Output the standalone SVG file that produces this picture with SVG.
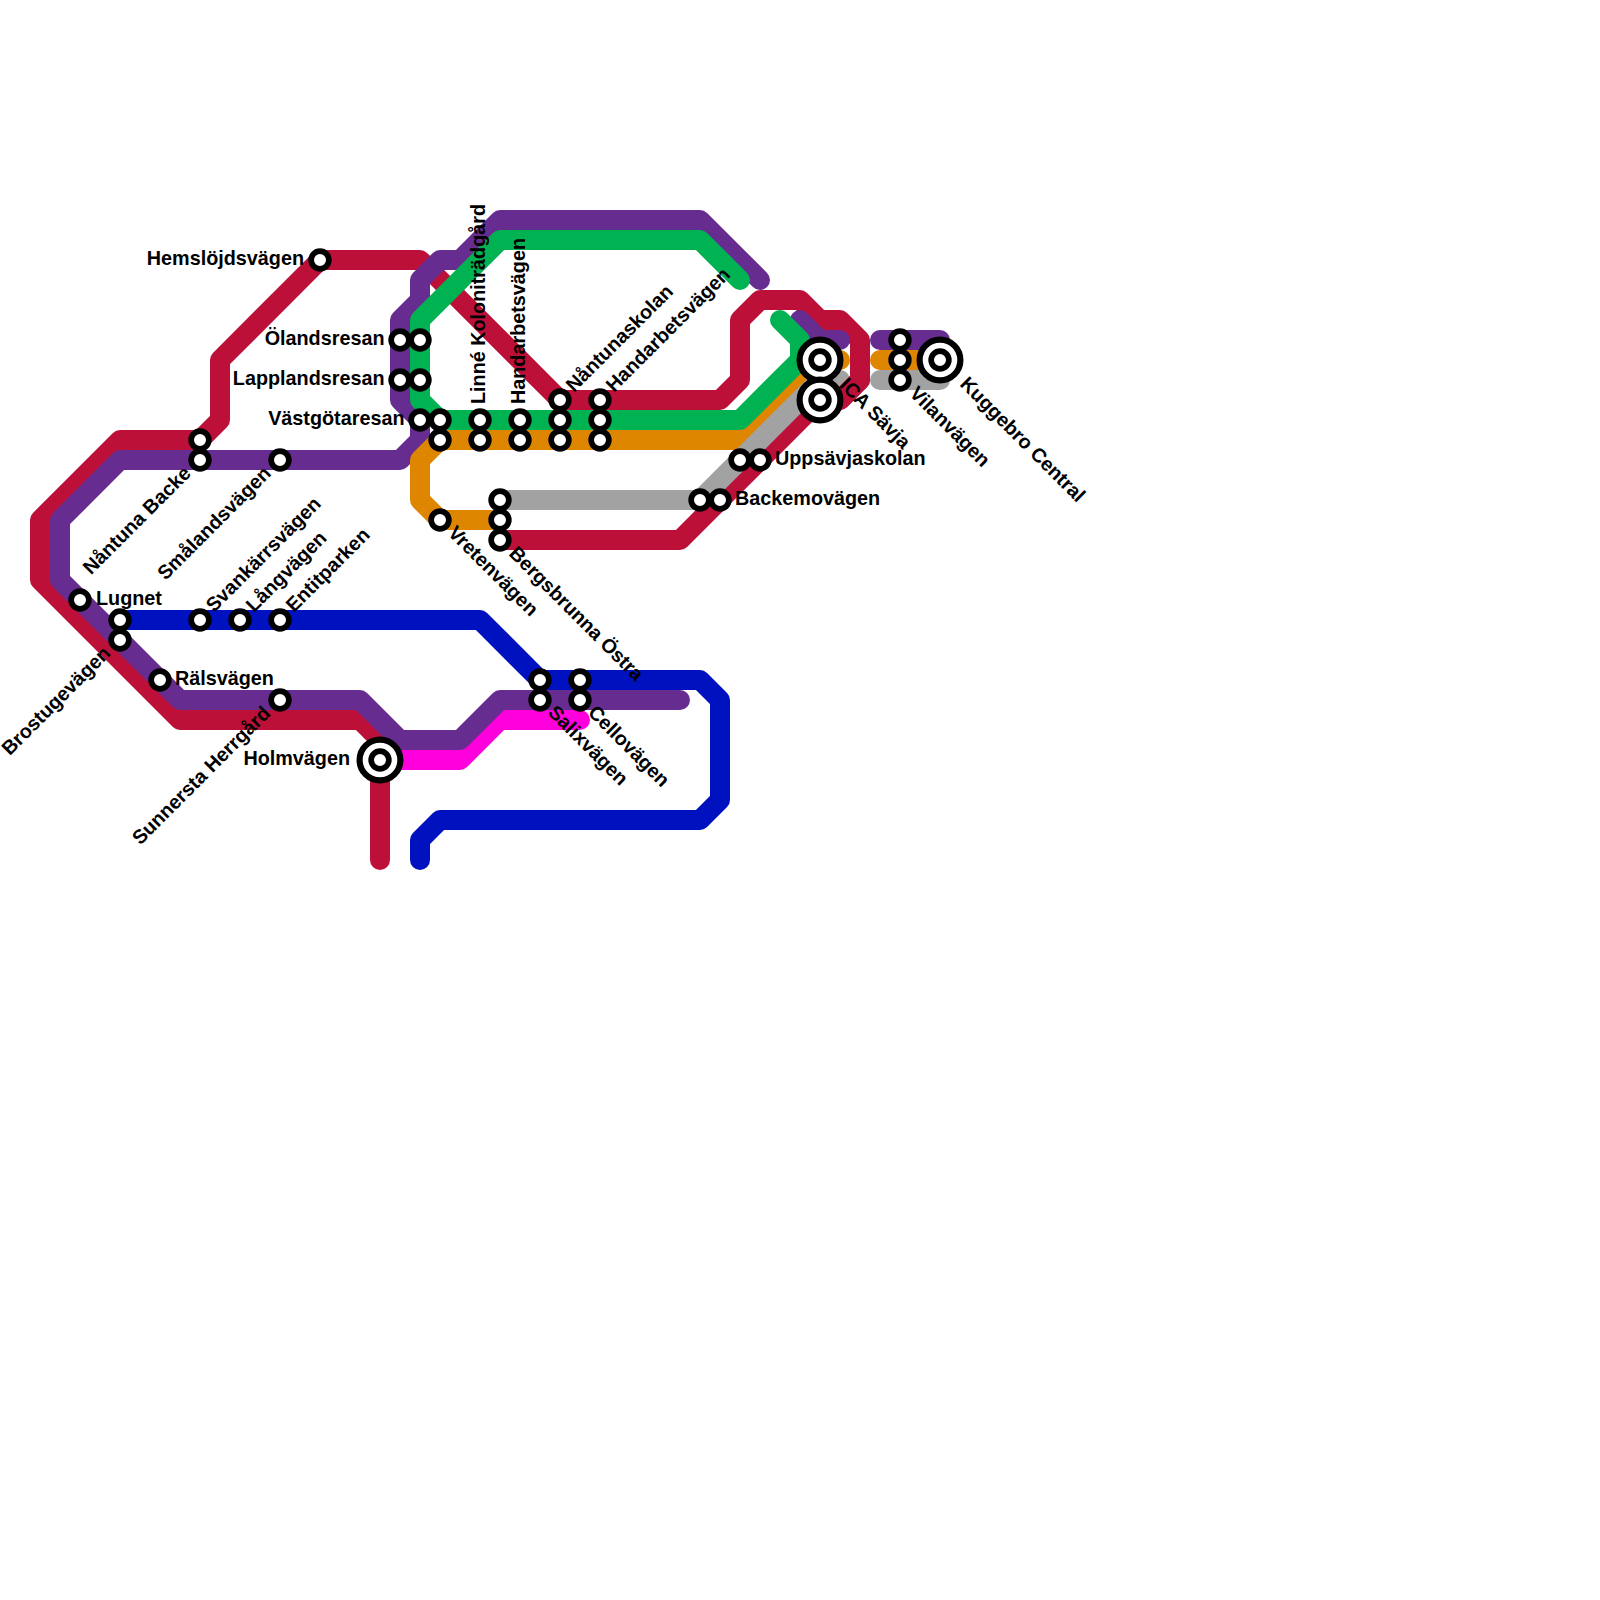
<svg xmlns="http://www.w3.org/2000/svg" width="1600" height="1600" viewBox="0 0 1600 1600">
<style>
.l{fill:none;stroke-width:20;stroke-linecap:round;stroke-linejoin:round}
.red{stroke:#BD1038}.pur{stroke:#662C90}.grn{stroke:#00B251}.org{stroke:#DF8600}.gry{stroke:#A2A2A2}.blu{stroke:#0012BF}.mag{stroke:#FF00DC}
.s{fill:#fff;stroke:#000;stroke-width:5.7}
.b{fill:#fff;stroke:#000;stroke-width:6.2}
text{font-family:"Liberation Sans",Arial,sans-serif;font-size:19.8px;font-weight:bold;fill:#000}
.e{text-anchor:end}
</style>
<defs>
<circle id="st" class="s" r="8.85"/>
<g id="ic"><circle class="b" r="20.4"/><circle class="s" r="8.85"/></g>
</defs>
<g id="connectors">
<path class="l red" d="M380 860V740L360 720H180L40 580V520L120 440H200L220 420V360L320 260H420L560 400H720L740 380V320L760 300H800L820 320H840L860 340V380L840 400H820L680 540H500"/>
<path class="l blu" d="M120 620H480L540 680H700L720 700V800L700 820H440L420 840V860"/>
<path class="l mag" d="M380 760H460L500 720H580"/>
<path class="l pur" d="M760 280L700 220H500L460 260H440L420 280V300L400 320V400L420 420V440L400 460H120L60 520V580L180 700H360L400 740H460L500 700H680"/>
<path class="l pur" d="M800 320L820 340H840"/>
<path class="l pur" d="M880 340H940"/>
<path class="l org" d="M840 360H820L740 440H440L420 460V500L440 520H500"/>
<path class="l org" d="M880 360H940"/>
<path class="l gry" d="M500 500H700L820 380H840"/>
<path class="l gry" d="M880 380H940"/>
<path class="l red" d="M860 380L840 400"/>
<path class="l grn" d="M740 280L700 240H500L420 320V400L440 420H740L800 360V340L780 320"/>
</g>
<g id="n1"><use href="#st" x="320" y="260"/><text class="e" x="304" y="265">Hemslöjdsvägen</text></g>
<g id="n2"><use href="#st" x="400" y="340"/><use href="#st" x="420" y="340"/><text class="e" x="384.5" y="345">Ölandsresan</text></g>
<g id="n3"><use href="#st" x="400" y="380"/><use href="#st" x="420" y="380"/><text class="e" x="384.5" y="385">Lapplandsresan</text></g>
<g id="n4"><use href="#st" x="420" y="420"/><use href="#st" x="440" y="420"/><use href="#st" x="440" y="440"/><text class="e" x="404.5" y="425">Västgötaresan</text></g>
<g id="n5"><use href="#st" x="480" y="420"/><use href="#st" x="480" y="440"/><text transform="translate(485 404) rotate(-90)">Linné Koloniträdgård</text></g>
<g id="n6"><use href="#st" x="520" y="420"/><use href="#st" x="520" y="440"/><text transform="translate(525 404) rotate(-90)">Handarbetsvägen</text></g>
<g id="n7"><use href="#st" x="560" y="400"/><use href="#st" x="560" y="420"/><use href="#st" x="560" y="440"/><text transform="translate(574 393) rotate(-45)">Nåntunaskolan</text></g>
<g id="n8"><use href="#st" x="600" y="400"/><use href="#st" x="600" y="420"/><use href="#st" x="600" y="440"/><text transform="translate(614 393) rotate(-45)">Handarbetsvägen</text></g>
<g id="n9"><use href="#st" x="440" y="520"/><text transform="translate(447 534) rotate(45)">Vretenvägen</text></g>
<g id="n10"><use href="#st" x="500" y="500"/><use href="#st" x="500" y="520"/><use href="#st" x="500" y="540"/><text transform="translate(508 554.5) rotate(45)">Bergsbrunna Östra</text></g>
<g id="n11"><use href="#st" x="700" y="500"/><use href="#st" x="720" y="500"/><text x="735" y="505">Backemovägen</text></g>
<g id="n12"><use href="#st" x="740" y="460"/><use href="#st" x="760" y="460"/><text x="775" y="465">Uppsävjaskolan</text></g>
<g id="n13"><use href="#ic" x="820" y="360"/><use href="#ic" x="820" y="400"/><text transform="translate(838.5 386) rotate(45)">ICA Sävja</text></g>
<g id="n14"><use href="#st" x="900" y="340"/><use href="#st" x="900" y="360"/><use href="#st" x="900" y="380"/><text transform="translate(908.5 394.5) rotate(45)">Vilanvägen</text></g>
<g id="n15"><use href="#ic" x="940" y="360"/><text transform="translate(959 385) rotate(45)">Kuggebro Central</text></g>
<g id="n16"><use href="#st" x="200" y="440"/><use href="#st" x="200" y="460"/><text class="e" transform="translate(192 474.5) rotate(-45)">Nåntuna Backe</text></g>
<g id="n17"><use href="#st" x="280" y="460"/><text class="e" transform="translate(272 474.5) rotate(-45)">Smålandsvägen</text></g>
<g id="n18"><use href="#st" x="80" y="600"/><text x="96" y="605">Lugnet</text></g>
<g id="n19"><use href="#st" x="120" y="620"/><use href="#st" x="120" y="640"/><text class="e" transform="translate(111.5 654.5) rotate(-45)">Brostugevägen</text></g>
<g id="n20"><use href="#st" x="160" y="680"/><text x="175" y="685">Rälsvägen</text></g>
<g id="n21"><use href="#st" x="200" y="620"/><text transform="translate(214 613) rotate(-45)">Svankärrsvägen</text></g>
<g id="n22"><use href="#st" x="240" y="620"/><text transform="translate(254 613) rotate(-45)">Långvägen</text></g>
<g id="n23"><use href="#st" x="280" y="620"/><text transform="translate(294 613) rotate(-45)">Entitparken</text></g>
<g id="n24"><use href="#st" x="280" y="700"/><text class="e" transform="translate(271.5 714.5) rotate(-45)">Sunnersta Herrgård</text></g>
<g id="n25"><use href="#ic" x="380" y="760"/><text class="e" x="350" y="765">Holmvägen</text></g>
<g id="n26"><use href="#st" x="540" y="680"/><use href="#st" x="540" y="700"/><text transform="translate(547 713.5) rotate(45)">Salixvägen</text></g>
<g id="n27"><use href="#st" x="580" y="680"/><use href="#st" x="580" y="700"/><text transform="translate(587 713.5) rotate(45)">Cellovägen</text></g>
</svg>
